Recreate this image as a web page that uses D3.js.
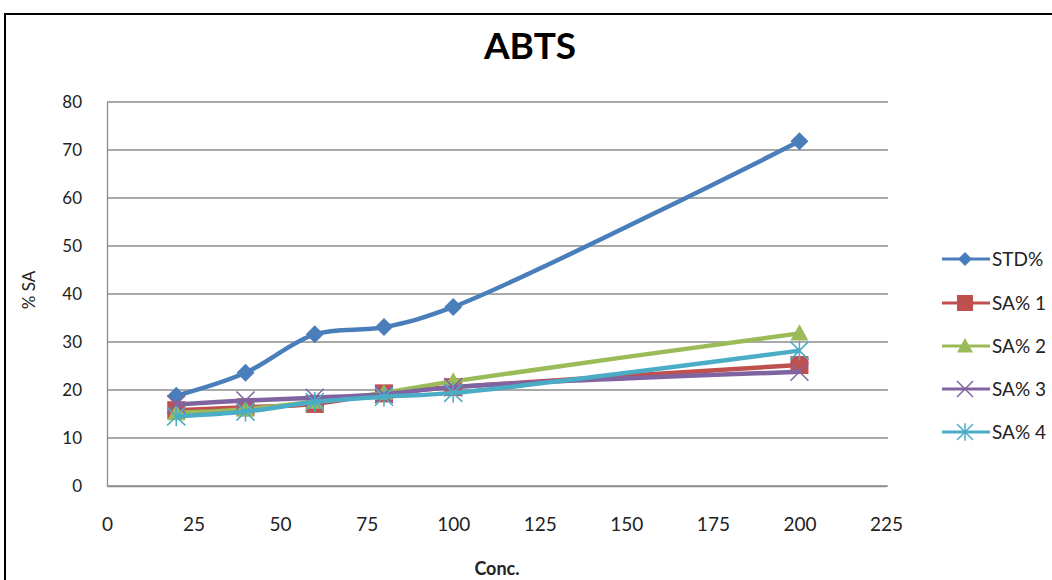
<!DOCTYPE html>
<html>
<head>
<meta charset="utf-8">
<script src="https://cdn.jsdelivr.net/npm/d3@7"></script>
<style>
  html, body { margin: 0; padding: 0; background: #fff; }
  svg { display: block; }
  text { font-family: Lato, "Open Sans", sans-serif; }
</style>
</head>
<body>
<svg id="chart" width="1052" height="580"></svg>
<script>
// Concentrations and % scavenging activity per series
const conc = [20, 40, 60, 80, 100, 200];
const std  = [18.8, 23.6, 31.6, 33.1, 37.3, 71.8];
const sa1  = [15.8, 16.4, 17.1, 19.3, 20.6, 25.2];
const sa2  = [15.2, 16.0, 17.6, 19.4, 21.8, 31.8];
const sa3  = [17.0, 17.8, 18.4, 19.1, 20.6, 23.8];
const sa4  = [14.5, 15.5, 17.5, 18.6, 19.4, 28.2];
const seriesNames = ["STD%", "SA% 1", "SA% 2", "SA% 3", "SA% 4"];
const xTicks = [0, 25, 50, 75, 100, 125, 150, 175, 200, 225];
const yTicks = [0, 10, 20, 30, 40, 50, 60, 70, 80];

const colors  = ["#4A7EBB", "#C0504D", "#9BBB59", "#8064A2", "#4BACC6"];
const symbols = ["diamond", "square", "triangle", "x", "asterisk"];
const values  = [std, sa1, sa2, sa3, sa4];

const svg = d3.select("#chart");

// outer frame
svg.append("rect")
  .attr("x", 5).attr("y", 14)
  .attr("width", 1060).attr("height", 600)
  .attr("fill", "none").attr("stroke", "#000").attr("stroke-width", 2);

const x = d3.scaleLinear().domain([0, 225]).range([107, 886]);
const y = d3.scaleLinear().domain([0, 80]).range([486, 102]);

// horizontal gridlines
svg.append("g")
  .selectAll("line")
  .data(yTicks)
  .join("line")
  .attr("x1", x(0)).attr("x2", x(225) + 2)
  .attr("y1", d => y(d)).attr("y2", d => y(d))
  .attr("stroke", "#8c8c8c").attr("stroke-width", 1.3);

// y axis
const yAxis = svg.append("g")
  .attr("transform", `translate(${x(0)},0)`)
  .call(d3.axisLeft(y).tickValues(yTicks).tickSize(0).tickPadding(25));
yAxis.select(".domain").attr("stroke", "#8c8c8c").attr("stroke-width", 1.3);
yAxis.selectAll("text").attr("font-size", 17).attr("fill", "#222");

// x axis
const xAxis = svg.append("g")
  .attr("transform", `translate(0,${y(0)})`)
  .call(d3.axisBottom(x).tickValues(xTicks).tickSize(0).tickPadding(32));
xAxis.select(".domain").attr("stroke", "#8c8c8c").attr("stroke-width", 1.3);
xAxis.selectAll("text").attr("font-size", 19).attr("fill", "#222");

// title and axis titles
svg.append("text")
  .attr("x", 530).attr("y", 59)
  .attr("text-anchor", "middle")
  .attr("font-size", 37).attr("font-weight", "bold")
  .text("ABTS");

svg.append("text")
  .attr("x", 497).attr("y", 575)
  .attr("text-anchor", "middle")
  .attr("font-size", 18).attr("font-weight", "bold")
  .attr("fill", "#222")
  .text("Conc.");

svg.append("text")
  .attr("transform", "translate(35,290) rotate(-90)")
  .attr("text-anchor", "middle")
  .attr("font-size", 17)
  .attr("fill", "#222")
  .text("% SA");

// marker drawing
function drawMarker(g, type, color, cx, cy, s) {
  if (type === "diamond") {
    g.append("path")
      .attr("d", `M${cx},${cy - s}L${cx + s},${cy}L${cx},${cy + s}L${cx - s},${cy}Z`)
      .attr("fill", color);
  } else if (type === "square") {
    g.append("rect")
      .attr("x", cx - s).attr("y", cy - s)
      .attr("width", s * 2).attr("height", s * 2)
      .attr("fill", color);
  } else if (type === "triangle") {
    g.append("path")
      .attr("d", `M${cx},${cy - s}L${cx + s},${cy + s * 0.8}L${cx - s},${cy + s * 0.8}Z`)
      .attr("fill", color);
  } else if (type === "x") {
    g.append("path")
      .attr("d", `M${cx - s},${cy - s}L${cx + s},${cy + s}M${cx - s},${cy + s}L${cx + s},${cy - s}`)
      .attr("stroke", color).attr("stroke-width", 1.5).attr("fill", "none");
  } else if (type === "asterisk") {
    g.append("path")
      .attr("d", `M${cx - s},${cy - s}L${cx + s},${cy + s}M${cx - s},${cy + s}L${cx + s},${cy - s}M${cx},${cy - s * 1.1}L${cx},${cy + s * 1.1}`)
      .attr("stroke", color).attr("stroke-width", 1.5).attr("fill", "none");
  }
}

const line = d3.line()
  .x((d, i) => x(conc[i]))
  .y(d => y(d))
  .curve(d3.curveCatmullRom.alpha(0.5));

values.forEach((vals, si) => {
  const g = svg.append("g");
  g.append("path")
    .datum(vals)
    .attr("d", line)
    .attr("fill", "none")
    .attr("stroke", colors[si])
    .attr("stroke-width", 4.5)
    .attr("stroke-linejoin", "round");
  vals.forEach((v, i) => drawMarker(g, symbols[si], colors[si], x(conc[i]), y(v), 9));
});

// legend
const legendY = [259, 303, 346, 389, 432];
seriesNames.forEach((name, si) => {
  const g = svg.append("g");
  const ly = legendY[si];
  g.append("line")
    .attr("x1", 942).attr("x2", 990)
    .attr("y1", ly).attr("y2", ly)
    .attr("stroke", colors[si]).attr("stroke-width", 3);
  drawMarker(g, symbols[si], colors[si], 965, ly, si === 0 ? 7 : 8);
  g.append("text")
    .attr("x", 992).attr("y", ly + 6.5)
    .attr("font-size", 19)
    .attr("fill", "#222")
    .text(name);
});
</script>
</body>
</html>
